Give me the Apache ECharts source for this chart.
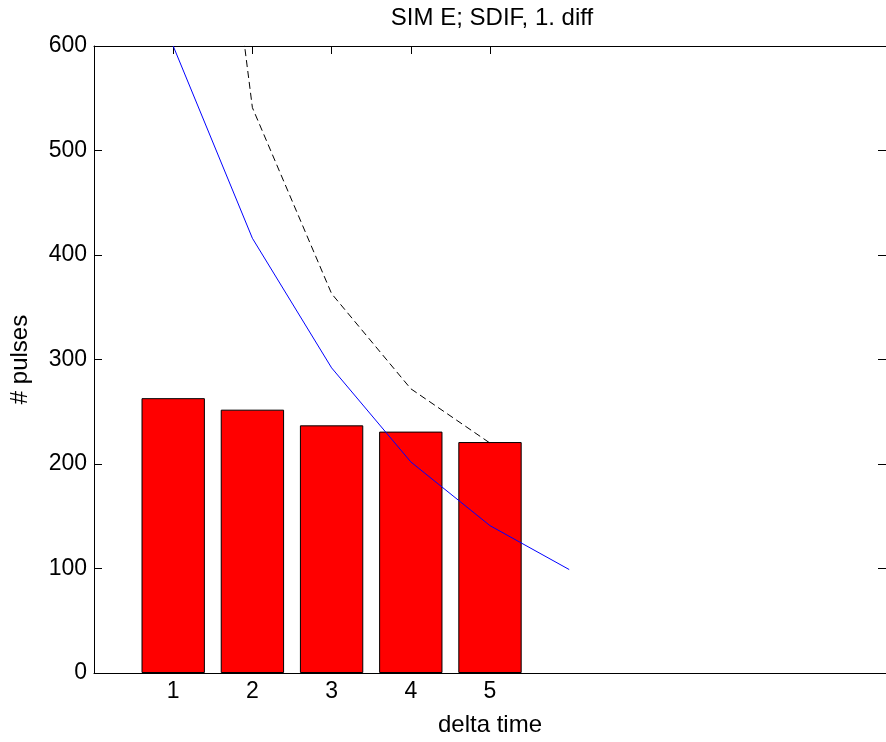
<!DOCTYPE html>
<html>
<head>
<meta charset="utf-8">
<script src="https://cdn.jsdelivr.net/npm/echarts@6/dist/echarts.min.js"></script>
<style>
html,body{margin:0;padding:0;background:#fff;}
#chart{width:886px;height:742px;}
</style>
</head>
<body>
<div id="chart"></div>
<script>
// ---- data ----
const categories = [1, 2, 3, 4, 5];
const barValues = [263, 252, 237, 231, 221];
const blueX = [1, 2, 3, 4, 5, 6];
const blueValues = [600, 416, 292, 202, 141, 99];
const dashedX = [1, 2, 3, 4, 5];
const dashedValues = [1140, 541, 363, 272, 220];
const xTickValues = [1, 2, 3, 4, 5];
const yTickValues = [0, 100, 200, 300, 400, 500, 600];
const titleText = 'SIM E; SDIF, 1. diff';
const xLabel = 'delta time';
const yLabel = '# pulses';

const FONT = 'Liberation Sans, Arial, sans-serif';
const FS = 23;

const zip = (xs, ys) => xs.map((x, i) => [x, ys[i]]);

const chart = echarts.init(document.getElementById('chart'), null, {renderer: 'canvas'});
const axisLine = {show: true, onZero: false, lineStyle: {color: '#000', width: 1}};
chart.setOption({
  animation: false,
  backgroundColor: '#fff',
  title: {
    text: titleText,
    left: 492,
    top: 6,
    textAlign: 'center',
    padding: 0,
    textStyle: {fontFamily: FONT, fontSize: 24, fontWeight: 'normal', color: '#000'}
  },
  grid: {left: 93, top: 46, width: 798, height: 629, containLabel: false},
  xAxis: [{
    type: 'value', min: 0, max: 10, interval: 1, position: 'bottom',
    name: xLabel, nameLocation: 'middle', nameGap: 40,
    nameTextStyle: {fontFamily: FONT, fontSize: 24, color: '#000'},
    axisLine: axisLine,
    axisTick: {show: true, inside: true, length: 8, lineStyle: {color: '#000'}, customValues: xTickValues},
    axisLabel: {show: true, margin: 7, fontFamily: FONT, fontSize: FS, color: '#000', customValues: xTickValues},
    splitLine: {show: false}
  }, {
    type: 'value', min: 0, max: 10, interval: 1, position: 'top',
    axisLine: axisLine,
    axisTick: {show: true, inside: true, length: 8, lineStyle: {color: '#000'}, customValues: xTickValues},
    axisLabel: {show: false},
    splitLine: {show: false}
  }],
  yAxis: [{
    type: 'value', min: 0, max: 600, interval: 100, position: 'left',
    name: yLabel, nameLocation: 'middle', nameGap: 62, nameRotate: 90,
    nameTextStyle: {fontFamily: FONT, fontSize: 24, color: '#000'},
    axisLine: axisLine,
    axisTick: {show: true, inside: true, length: 8, lineStyle: {color: '#000'}, customValues: yTickValues},
    axisLabel: {show: true, margin: 7, fontFamily: FONT, fontSize: FS, color: '#000', customValues: yTickValues},
    splitLine: {show: false}
  }, {
    type: 'value', min: 0, max: 600, interval: 100, position: 'right',
    axisLine: axisLine,
    axisTick: {show: true, inside: true, length: 8, lineStyle: {color: '#000'}, customValues: yTickValues},
    axisLabel: {show: false},
    splitLine: {show: false}
  }],
  series: [{
    type: 'bar',
    xAxisIndex: 0, yAxisIndex: 0,
    data: zip(categories, barValues),
    barWidth: '80%',
    itemStyle: {color: '#ff0000', borderColor: '#000', borderWidth: 1},
    z: 1
  }, {
    type: 'line',
    xAxisIndex: 0, yAxisIndex: 0,
    data: zip(blueX, blueValues),
    symbol: 'none', showSymbol: false, clip: true,
    lineStyle: {color: '#0000ff', width: 1},
    z: 3
  }, {
    type: 'line',
    xAxisIndex: 0, yAxisIndex: 0,
    data: zip(dashedX, dashedValues),
    symbol: 'none', showSymbol: false, clip: true,
    lineStyle: {color: '#000', width: 1, type: [7, 4]},
    z: 3
  }]
});
</script>
</body>
</html>
